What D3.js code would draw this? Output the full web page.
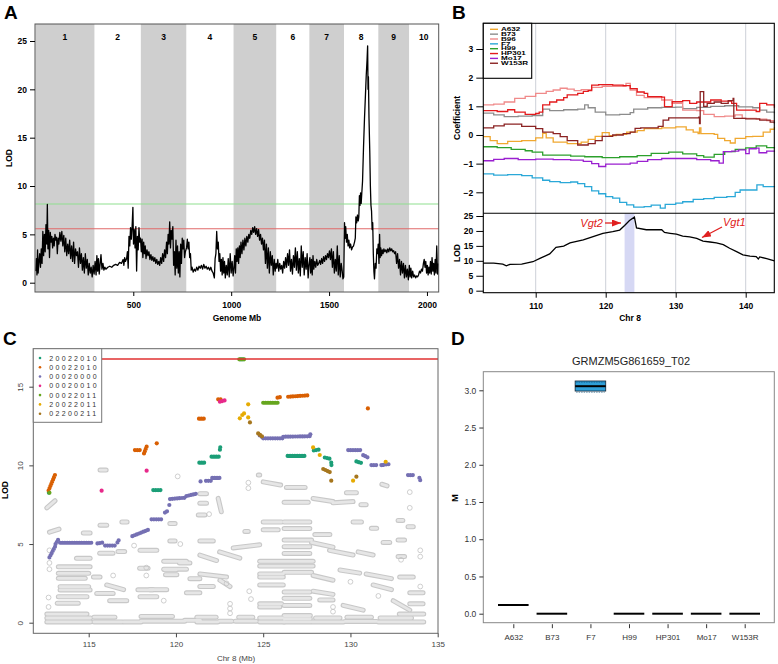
<!DOCTYPE html>
<html>
<head>
<meta charset="utf-8">
<script src="https://cdn.jsdelivr.net/npm/d3@7"></script>
<style>
body { margin: 0; background: #fff; }
svg { font-family: "Liberation Sans", Arial, sans-serif; }
</style>
</head>
<body>
<svg id="fig" width="778" height="664"></svg>
<script>
// ---------- Panel A: genome scan ----------
const chrNames = ["1","2","3","4","5","6","7","8","9","10"];
const chrEnds = [301.4, 538.5, 770.6, 1012.1, 1230.0, 1399.4, 1576.2, 1751.6, 1908.6, 2058.2];
const aYTicks = [0, 5, 10, 15, 20, 25];
const aXTicks = [500, 1000, 1500, 2000];
const aThresholds = [8.14, 5.58]; // green, red
const genomeLod = [
  [2,1.2],[5,2.5],[8,0.8],[11,3.4],[14,1.0],[18,2.2],[22,3.0],[26,1.6],[30,3.5],[34,2.0],[38,5.3],[42,2.8],[46,5.0],[50,3.2],[54,6.0],[58,4.0],[61,8.1],[64,3.5],[68,5.4],[72,2.6],[76,5.2],[80,4.2],[84,4.8],[88,3.6],[92,4.6],[96,3.8],[100,5.0],[104,4.4],[108,4.7],[112,3.0],[116,4.6],[120,4.0],[125,5.2],[130,4.3],[135,5.3],[140,3.8],[145,4.9],[150,3.2],[155,4.6],[160,2.8],[165,4.0],[170,3.0],[175,4.4],[180,2.5],[185,3.8],[190,2.2],[195,4.2],[200,2.0],[205,3.5],[210,2.8],[215,3.2],[220,1.6],[225,3.6],[230,2.0],[235,3.0],[240,1.3],[245,2.6],[250,1.0],[255,3.0],[260,1.5],[265,2.4],[270,0.8],[275,2.0],[280,1.0],[285,1.6],[290,0.6],[295,1.8],[300,0.9],
  [305,2.2],[310,0.8],[314,2.8],[318,1.2],[322,2.5],[326,0.9],[330,1.8],[335,2.9],[340,1.4],[345,2.0],[350,1.3],[355,1.6],[360,1.4],[370,1.6],[380,1.7],[390,1.6],[400,1.8],[410,1.9],[420,1.8],[430,2.1],[440,2.0],[448,2.4],[452,1.8],[456,2.6],[460,2.2],[466,2.5],[470,3.2],[474,1.5],[478,4.8],[482,3.8],[486,5.7],[490,4.5],[494,5.8],[498,7.8],[501,4.0],[505,5.5],[509,3.6],[513,5.8],[517,1.2],[521,4.8],[525,3.4],[529,5.7],[533,4.2],[537,4.6],
  [541,3.2],[545,4.5],[549,2.6],[553,4.2],[557,3.0],[561,3.8],[565,2.5],[570,3.4],[575,2.8],[580,3.2],[585,2.4],[590,2.9],[595,2.3],[600,2.7],[605,2.2],[610,2.6],[615,2.0],[620,2.4],[625,1.9],[630,2.2],[635,1.8],[640,2.6],[645,2.0],[650,3.0],[655,2.2],[660,3.4],[665,2.6],[670,4.2],[674,3.0],[678,5.0],[682,4.0],[686,6.3],[690,3.6],[694,5.4],[698,4.5],[702,5.8],[706,1.8],[710,3.2],[714,0.8],[718,4.4],[722,1.5],[726,3.8],[730,1.0],[734,3.2],[738,0.6],[742,4.0],[746,2.0],[750,4.6],[754,3.5],[758,4.4],[762,2.6],[766,3.2],
  [772,3.6],[776,4.5],[780,3.5],[784,4.2],[788,2.6],[792,3.0],[796,1.3],[800,1.6],[806,1.1],[812,1.4],[818,1.2],[824,1.6],[830,1.3],[836,1.7],[842,1.5],[848,1.8],[854,1.4],[860,1.9],[866,1.5],[872,1.7],[878,1.4],[884,1.6],[890,1.3],[896,1.6],[902,1.2],[908,1.0],[914,0.5],[918,2.5],[922,3.0],[926,5.3],[930,3.5],[934,4.2],[938,2.2],[942,3.0],[946,1.2],[950,2.4],[954,0.8],[958,2.6],[962,1.0],[966,2.2],[970,0.5],[975,1.8],[980,0.8],[985,2.5],[990,0.6],[995,3.0],[1000,1.0],[1005,2.2],[1010,0.7],
  [1014,1.5],[1018,2.8],[1022,1.0],[1026,3.5],[1030,2.2],[1034,3.6],[1038,2.0],[1042,3.8],[1046,2.6],[1050,4.2],[1055,3.0],[1060,4.4],[1065,3.4],[1070,4.6],[1075,3.8],[1080,4.8],[1085,4.2],[1090,5.0],[1095,4.6],[1100,5.4],[1105,5.0],[1110,5.7],[1115,5.2],[1120,5.8],[1125,5.0],[1130,5.6],[1135,4.8],[1140,5.5],[1145,4.4],[1150,5.0],[1155,4.0],[1160,4.6],[1165,3.4],[1170,4.4],[1175,2.0],[1180,4.0],[1185,1.5],[1190,3.6],[1195,1.0],[1200,3.2],[1205,1.8],[1210,2.8],[1215,0.8],[1220,2.4],[1225,1.2],[1229,2.0],
  [1233,1.5],[1238,2.4],[1243,1.2],[1248,2.0],[1253,1.4],[1258,1.8],[1263,1.0],[1268,2.2],[1273,1.5],[1278,2.6],[1283,1.6],[1288,3.0],[1293,1.8],[1298,3.4],[1303,1.2],[1308,2.4],[1313,0.9],[1318,2.8],[1323,1.6],[1328,3.6],[1333,1.3],[1338,3.2],[1343,1.0],[1348,2.5],[1353,0.7],[1358,3.8],[1363,1.6],[1368,3.2],[1373,0.8],[1378,2.6],[1383,1.4],[1388,3.0],[1393,0.5],[1397,1.8],
  [1402,2.6],[1406,1.0],[1410,2.4],[1414,0.8],[1418,2.8],[1422,1.4],[1427,2.2],[1432,1.6],[1437,2.4],[1442,1.8],[1447,2.0],[1452,2.3],[1457,1.9],[1462,2.5],[1467,2.0],[1472,2.7],[1477,2.2],[1482,2.8],[1487,2.4],[1492,3.0],[1497,2.6],[1502,3.3],[1507,2.4],[1512,3.5],[1517,1.6],[1522,3.2],[1527,1.0],[1532,2.4],[1537,1.2],[1542,3.8],[1547,0.8],[1552,2.8],[1557,0.6],[1562,2.0],[1567,1.2],[1571,0.4],[1575,0.6],
  [1577,3.5],[1579,6.2],[1582,4.6],[1585,5.8],[1589,4.2],[1593,5.0],[1597,3.8],[1601,4.4],[1605,3.6],[1610,4.0],[1615,3.4],[1620,3.7],[1625,3.8],[1630,4.2],[1634,4.6],[1637,6.8],[1641,6.2],[1645,7.0],[1649,6.4],[1652,6.8],[1655,9.0],[1658,8.0],[1661,9.3],[1664,8.2],[1667,9.2],[1671,10.5],[1676,14.0],[1681,17.0],[1686,19.5],[1690,21.5],[1694,23.0],[1697,24.5],[1699,20.0],[1701,21.3],[1704,17.0],[1708,13.5],[1711,10.0],[1714,8.0],[1717,7.4],[1720,5.5],[1723,6.2],[1726,3.0],[1729,1.2],[1732,0.4],[1736,2.0],[1740,1.5],[1744,3.5],[1748,3.0],[1751,4.0],
  [1755,2.0],[1758,5.0],[1761,2.6],[1764,3.6],[1768,2.8],[1772,3.4],[1776,3.0],[1780,3.5],[1785,3.2],[1790,3.4],[1795,3.1],[1800,3.5],[1805,3.2],[1810,3.6],[1815,3.3],[1820,3.5],[1825,3.2],[1830,3.3],[1835,3.0],[1840,3.2],[1845,2.0],[1850,3.0],[1855,1.5],[1860,2.4],[1865,0.8],[1870,2.2],[1875,1.0],[1880,2.0],[1885,0.5],[1890,1.8],[1895,0.6],[1900,1.4],[1905,0.3],
  [1910,1.8],[1914,0.6],[1918,1.5],[1922,0.5],[1927,1.2],[1932,0.6],[1937,0.8],[1942,0.5],[1947,0.7],[1952,0.6],[1957,0.8],[1962,1.2],[1967,1.0],[1972,1.4],[1977,1.2],[1982,2.0],[1986,2.4],[1990,1.6],[1994,2.2],[1998,1.0],[2002,1.8],[2006,0.8],[2010,1.6],[2014,1.0],[2018,2.2],[2022,0.9],[2026,2.6],[2030,1.2],[2034,2.0],[2038,0.8],[2042,2.4],[2046,1.0],[2050,3.8],[2054,0.9],[2057,2.0]
];

// ---------- Panel B: coefficients and LOD on chr 8 ----------
const bNames = ["A632","B73","B96","F7","H99","HP301","Mo17","W153R"];
const bColors = ["#f0a830","#8c8c8c","#f08a8a","#2aa8d8","#2ca02c","#e31a1c","#9a1fd0","#8b2323"];
const bCoefTicks = [-2,-1,0,1,2,3];
const bLodTicks = [0,5,10,15,20,25];
const bXTicks = [110,120,130,140];
const coefA632 = [[102.5,-0.06],[103.5,-0.2],[104.5,-0.3],[106,-0.22],[108,-0.2],[110,-0.1],[111,0.06],[111.5,-0.1],[112.5,-0.25],[114.5,-0.3],[116.5,-0.25],[117.5,-0.15],[118.5,-0.05],[119.5,0.08],[120.5,-0.02],[121.5,0.02],[123,0.1],[124.5,0.15],[125.5,0.22],[128,0.25],[130,0.28],[131.5,0.18],[132.5,0.1],[133.2,0.05],[133.4,0.25],[133.6,0.05],[135.5,0.02],[136,-0.12],[137,-0.2],[137.8,-0.28],[138.5,-0.12],[140,-0.06],[141,-0.05],[142.5,0.1],[143.5,0.2],[144.1,0.28]];
const coefB73 = [[102.5,0.76],[104,0.7],[105.5,0.64],[107.5,0.66],[109.5,0.68],[111,0.9],[112,0.85],[114,0.88],[116,0.9],[117,1.05],[117.5,0.95],[118.5,0.8],[120,0.7],[122,0.72],[123.5,0.78],[124,0.9],[126,0.95],[128,0.96],[130,0.97],[131,0.92],[133,0.96],[135,1.0],[137,1.02],[139,0.98],[141,0.95],[142,0.87],[143,0.8],[144.1,0.76]];
const coefB96 = [[102.5,1.05],[104,1.08],[105.5,1.15],[107,1.28],[108.5,1.35],[110,1.45],[111.5,1.52],[112.5,1.57],[113.5,1.63],[114.5,1.6],[115.5,1.55],[116.5,1.58],[118,1.66],[119.5,1.7],[121.5,1.7],[122.9,1.8],[123.5,1.57],[124.4,1.38],[125.5,1.3],[128,1.22],[129.5,1.1],[131,0.87],[133,0.85],[134,0.72],[135.5,0.64],[137,0.66],[138.5,0.7],[139.5,0.58],[141.5,0.55],[143,0.5],[144.1,0.46]];
const coefF7 = [[102.5,-1.36],[104,-1.4],[106,-1.38],[108,-1.42],[109.5,-1.5],[111,-1.58],[112,-1.63],[113.5,-1.66],[115,-1.64],[116,-1.7],[117,-1.8],[118,-1.95],[119,-2.05],[120,-2.15],[121,-2.2],[122,-2.35],[123,-2.44],[124,-2.52],[125.5,-2.5],[126.5,-2.45],[127.8,-2.55],[128.5,-2.42],[130,-2.38],[131,-2.33],[132.5,-2.25],[134,-2.22],[135.5,-2.18],[137.3,-2.15],[138.5,-2.0],[139.2,-1.92],[141,-1.92],[141.6,-1.74],[142.5,-1.8],[144.1,-1.82]];
const coefH99 = [[102.5,-0.41],[104.5,-0.44],[106.5,-0.5],[108.5,-0.55],[109.5,-0.6],[111,-0.7],[113,-0.7],[115,-0.74],[117,-0.76],[119.5,-0.79],[122,-0.76],[124.5,-0.72],[126.5,-0.64],[129,-0.6],[131,-0.66],[133,-0.72],[134,-0.77],[135.5,-0.68],[137,-0.58],[138.5,-0.5],[140,-0.45],[141.5,-0.38],[143,-0.44],[144.1,-0.47]];
const coefHP301 = [[102.5,0.85],[104.5,0.82],[106,0.88],[107,0.8],[108.5,0.72],[110,0.75],[110.5,0.8],[111,1.05],[112,1.15],[113,1.22],[114,1.3],[114.5,1.4],[116,1.45],[116.8,1.52],[117.5,1.55],[118,1.74],[119,1.76],[121,1.74],[122.5,1.72],[123.5,1.62],[124.5,1.5],[125.5,1.45],[126,1.34],[128,1.32],[128.4,0.99],[129.5,1.16],[131,1.2],[132,1.1],[133,1.15],[135,1.22],[136.5,1.18],[138,1.1],[138.7,0.87],[140,0.87],[141.5,0.82],[142,1.1],[143,1.05],[144.1,0.95]];
const coefMo17 = [[102.5,-0.9],[104,-0.85],[105.5,-0.82],[107.5,-0.86],[110,-0.84],[112.5,-0.86],[115,-0.88],[116.8,-0.92],[118,-1.0],[119,-1.1],[120,-1.02],[122,-1.02],[123.5,-0.98],[124.5,-0.92],[126,-0.86],[128,-0.82],[131,-0.82],[133,-0.86],[135,-0.9],[136.2,-0.98],[136.8,-0.58],[138,-0.56],[139,-0.52],[140,-0.65],[140.5,-0.48],[141.5,-0.46],[141.9,-0.62],[143,-0.56],[144.1,-0.54]];
const coefW153R = [[102.5,0.25],[104,0.32],[105.5,0.38],[108,0.3],[110,0.22],[111,0.1],[112.5,0.05],[113.5,-0.06],[114.5,-0.2],[116,-0.35],[117.5,-0.3],[118.5,-0.2],[119.5,-0.05],[121,0.0],[122.5,0.05],[123.5,0.1],[124.2,0.23],[125,0.25],[127.5,0.3],[128.2,0.52],[129,0.6],[131,0.6],[133.3,0.62],[133.4,0.4],[133.5,1.51],[133.9,1.51],[134,1.0],[134.5,1.1],[135.5,1.15],[136.5,1.1],[137.5,1.2],[138.2,1.28],[138.3,0.58],[140,0.56],[142,0.52],[143.5,0.45],[144.1,0.4]];
const bCoefSeries = [coefA632, coefB73, coefB96, coefF7, coefH99, coefHP301, coefMo17, coefW153R];
const chr8Lod = [[102.5,9.2],[104,9.2],[105.3,8.9],[105.8,8.3],[106.3,8.8],[108,8.9],[109.6,9.7],[110.6,10.8],[112,12.3],[112.9,14.5],[114,14.9],[114.9,16.0],[116.8,17.0],[118.2,18.1],[119.6,19.2],[121,19.8],[122,20.3],[122.7,21.8],[123.4,23.5],[124.1,24.6],[124.4,21.0],[125.8,20.4],[128,20.4],[128.4,19.5],[129.2,19.2],[130.1,18.9],[131,18.3],[132,18.0],[133,17.5],[133.9,16.6],[134.9,16.3],[135.8,16.0],[136.8,15.4],[137.7,14.2],[138.7,13.1],[139.6,12.0],[140.6,11.6],[141.5,11.4],[141.8,10.6],[142,11.3],[143,10.7],[144.1,10.0]];
const bBand = [122.7, 124.1];

// ---------- Panel C: haplotype LOD on chr 8 ----------
const cGroups = ["20022010","00022010","00020000","00020010","00022011","20022011","02200211"];
const cColors = ["#1b9e77","#d95f02","#7570b3","#e7298a","#66a61e","#e6ab02","#a6761d"];
const cXTicks = [115,120,125,130,135];
const cYTicks = [0,5,10,15];
const cThreshold = 16.76;
// [group, startMb, endMb, startLod, endLod]
const cRuns = [
  [0,112.72,112.78,8.26,8.26],[0,118.7,119.2,8.43,8.43],[0,121.34,121.72,10.17,10.17],[0,122.04,122.48,10.55,10.55],[0,122.52,122.56,11.0,11.3],[0,126.4,127.48,10.6,10.6],[0,127.9,128.2,10.95,11.0],[0,128.53,128.9,10.5,10.4],[0,128.9,128.92,10.17,9.9],[0,130.34,130.63,10.25,10.15],[0,123.7,123.95,16.74,16.74],
  [1,112.7,113.07,8.4,9.4],[1,117.65,117.94,10.97,10.97],[1,118.17,118.36,10.76,11.3],[1,118.9,118.9,11.4,11.4],[1,121.32,121.7,12.97,12.97],[1,122.42,122.6,14.2,14.2],[1,125.82,126.05,14.3,14.36],[1,126.43,127.58,14.36,14.45],[1,131.0,131.0,13.62,13.62],
  [2,112.75,113.07,4.15,4.83],[2,113.1,113.3,5.0,5.36],[2,113.36,115.17,5.08,5.08],[2,115.5,115.84,5.04,5.1],[2,115.94,116.6,4.9,4.9],[2,116.65,116.75,5.1,5.3],[2,117.5,118.4,5.5,5.9],[2,118.6,119.27,6.57,6.57],[2,119.37,119.6,7.0,7.15],[2,119.62,119.62,7.48,7.48],[2,119.66,120.6,7.86,7.95],[2,120.6,121.18,8.05,8.2],[2,121.41,121.41,8.98,8.98],[2,121.72,122.04,9.02,9.02],[2,122.08,122.52,9.2,9.2],[2,124.8,125.0,11.9,11.75],[2,125.0,126.15,11.72,11.72],[2,126.15,127.67,11.82,11.85],[2,127.7,127.72,11.97,11.97],[2,129.87,130.63,10.97,10.97],[2,130.73,131.0,10.65,10.5],[2,131.2,131.5,10.02,10.02],[2,131.77,132.25,10.02,10.08],[2,133.3,133.6,9.38,9.38],[2,133.95,134.0,9.2,9.05],
  [3,115.74,115.74,8.39,8.39],[3,118.32,118.32,9.66,9.66],[3,122.52,122.86,14.05,14.15],
  [4,112.75,112.75,8.26,8.26],[4,123.63,124.0,16.74,16.74],[4,125.0,125.95,13.98,13.98],
  [5,123.66,123.66,12.99,12.99],[5,123.8,123.95,13.2,13.35],[5,124.14,124.14,13.88,13.88],[5,124.14,124.24,13.05,12.95],[5,127.86,127.86,11.14,11.14],[5,128.24,128.24,10.66,10.66],[5,130.15,130.2,9.03,9.03],[5,132.02,132.02,10.23,10.23],
  [6,124.24,124.24,12.73,12.73],[6,124.71,125.0,12.03,11.78],[6,128.44,128.9,9.77,9.53],[6,128.9,128.9,9.03,9.03],[6,130.34,130.34,9.28,9.28]
];
// [startMb, endMb, startLod, endLod]
const greyRuns = [
  [115.65,116.0,9.7,9.7],[124.72,124.8,9.38,9.38],[125.0,126.0,8.95,8.75],[126.33,127.4,8.6,8.6],[126.2,127.58,7.65,7.65],[127.86,129.0,7.9,7.7],[129.0,130.15,7.62,7.7],[129.77,130.34,8.26,8.26],[130.6,130.9,7.5,7.5],[131.8,132.1,8.8,8.7],[121.37,121.75,8.2,8.2],[121.37,121.75,7.6,7.6],[122.42,122.6,7.9,7.05],[121.28,121.66,6.85,6.85],[112.6,113.07,7.3,7.75],[115.65,116.03,6.2,6.2],[116.9,117.2,6.4,6.4],[119.65,119.95,6.3,6.3],[125.0,126.05,6.4,6.4],[126.2,127.67,6.4,6.4],[126.2,127.67,5.98,5.98],[125.0,125.86,5.9,5.9],[130.15,130.63,6.4,6.4],[131.2,131.5,6.0,6.0],[132.73,133.0,6.5,6.5],[133.3,133.6,6.1,6.1],[123.95,124.14,5.8,5.8],[112.75,113.3,5.75,5.95],[114.69,115.08,5.7,5.7],
  [121.37,122.14,5.2,5.2],[119.65,119.95,5.2,5.2],[126.2,127.77,5.25,5.25],[126.2,127.67,4.83,4.83],[127.77,129.0,5.1,4.8],[127.96,128.82,5.6,5.6],[128.8,130.15,4.6,4.3],[130.44,131.3,4.5,4.3],[131.87,132.25,5.1,5.1],[132.73,133.1,5.25,5.25],[132.73,133.1,4.2,4.2],[123.28,124.8,4.75,4.95],[117.94,118.9,4.6,4.6],[115.63,116.39,4.42,4.42],[116.68,117.06,4.52,4.52],[114.3,115.08,4.09,4.09],[119.3,120.6,3.9,3.9],[119.3,120.6,3.4,3.4],[122.5,123.66,4.5,4.1],[121.37,122.33,4.3,3.95],
  [124.8,127.86,3.9,3.9],[124.8,127.86,3.6,3.6],[126.2,127.67,4.4,4.4],[124.8,126.15,3.1,3.1],[124.8,126.15,2.9,2.9],[126.2,127.77,3.2,3.2],[124.8,126.15,2.4,2.4],[126.2,127.67,1.95,1.95],[126.2,127.67,1.55,1.55],[126.2,127.67,1.1,1.1],[124.8,126.05,1.2,1.2],[124.8,125.95,1.0,1.0],[127.86,129.0,3.0,2.7],[129.4,130.53,3.35,3.15],[130.9,132.35,3.1,2.8],[131.3,132.35,2.4,2.1],[132.82,133.6,2.9,2.9],[121.37,122.9,3.1,2.9],[120.8,121.37,2.8,2.8],[122.52,123.1,2.7,2.3],[120.2,120.8,3.8,3.8],[121.37,122.14,2.3,2.3],[120.6,121.37,1.9,1.9],[118.5,119.47,2.1,2.1],[119.4,120.05,3.05,3.05],[117.94,118.9,1.65,1.65],[127.86,129.0,2.0,1.8],[128.24,129.0,1.45,1.45],[129.58,130.73,1.1,0.8],[132.45,133.4,1.4,0.8],[133.4,134.16,1.9,1.9],[133.4,134.16,1.2,1.2],[116.03,117.0,2.4,2.1],[116.2,117.18,1.4,1.4],[115.27,115.65,2.9,2.9],[115.46,116.4,1.86,1.86],[117.82,118.68,2.09,2.09],[117.92,118.4,3.46,3.46],[119.35,120.02,3.36,3.36],
  [113.26,115.08,3.55,3.55],[113.26,115.0,3.14,3.14],[113.26,114.8,2.82,2.82],[113.36,115.0,2.29,2.29],[113.36,115.08,2.08,2.08],[113.26,114.9,1.65,1.65],[113.2,114.4,1.24,1.24],
  [112.6,115.1,0.05,0.05],[112.6,115.1,0.3,0.3],[112.6,114.9,0.55,0.55],[115.3,116.9,0.05,0.05],[115.3,116.5,0.35,0.35],[117.0,118.0,0.05,0.05],[118.0,120.5,0.1,0.1],[118.0,119.8,0.4,0.4],[120.5,121.4,0.15,0.15],[121.2,122.4,0.05,0.05],[121.2,122.3,0.35,0.35],[122.5,123.2,0.1,0.1],[123.4,124.6,0.1,0.1],[123.6,124.4,0.35,0.35],[124.8,126.2,0.05,0.05],[124.8,126.1,0.3,0.3],[126.2,127.7,0.05,0.05],[126.2,127.7,0.25,0.25],[126.2,127.7,0.45,0.45],[127.8,129.6,0.05,0.05],[128.0,129.4,0.3,0.3],[129.7,131.5,0.08,0.08],[129.8,131.2,0.35,0.35],[131.6,134.2,0.05,0.05],[131.7,133.5,0.3,0.3],[132.8,134.2,0.55,0.55]
];
const greySingles = [[120.1,9.3],[124.15,8.9],[124.15,8.55],[133.4,8.3],[133.4,7.3],[121.9,6.9],[112.75,4.6],[112.75,3.8],[112.75,3.4],[112.7,1.0],[112.7,1.6],[134.0,4.6],[134.0,4.2],[134.0,2.3],[120.25,5.0],[116.4,3.0],[118.3,3.5],[118.3,3.0],[122.9,2.5],[129,1.0],[129,0.7],[124.2,2.0],[124.3,1.5],[132.9,4.0],[130.0,2.6],[131.6,1.7],[117.6,4.9],[119.3,1.4],[123.1,1.2],[123.1,0.9],[123.1,0.6]];

// ---------- Panel D: expression per line ----------
const dTitle = "GRMZM5G861659_T02";
const dCats = ["A632","B73","F7","H99","HP301","Mo17","W153R"];
const dMedian = [0.117, 0, 3.055, 0, 0, 0, 0];
const dQ1 = [0.117, 0, 2.99, 0, 0, 0, 0];
const dQ3 = [0.117, 0, 3.125, 0, 0, 0, 0];
const dYTicks = [0, 0.5, 1.0, 1.5, 2.0, 2.5, 3.0];

const svg = d3.select("#fig");

function tidy(g, size, weight, color) {
  g.select(".domain").remove();
  g.selectAll("text").attr("font-size", size).attr("font-weight", weight).attr("fill", color);
  g.selectAll("line").attr("stroke", color);
}
function panelLabel(t, x, y) {
  svg.append("text").attr("x", x).attr("y", y).attr("font-size", 19).attr("font-weight", "bold").text(t);
}

// ===== Panel A =====
const xA = d3.scaleLinear().domain([0, 2060]).range([35.4, 438.7]);
const yA = d3.scaleLinear().domain([0, 25]).range([282.7, 41]);
const gA = svg.append("g");
chrEnds.forEach((end, i) => {
  const s = i ? chrEnds[i - 1] : 0;
  if (i % 2 === 0) {
    gA.append("rect").attr("x", xA(s)).attr("y", 24).attr("width", xA(end) - xA(s)).attr("height", 268).attr("fill", "#cfcfcf");
  }
  gA.append("text").attr("x", xA((s + end) / 2)).attr("y", 40).attr("text-anchor", "middle")
    .attr("font-size", 8.5).attr("font-weight", "bold").text(chrNames[i]);
});
const thrColors = ["#90e090", "#e06a6a"];
aThresholds.forEach((t, i) => {
  gA.append("line").attr("x1", xA(0)).attr("x2", xA(2060)).attr("y1", yA(t)).attr("y2", yA(t))
    .attr("stroke", thrColors[i]).attr("stroke-width", 1.2);
});
gA.append("path").datum(genomeLod)
  .attr("d", d3.line().x(d => xA(d[0])).y(d => yA(d[1])))
  .attr("fill", "none").attr("stroke", "#000").attr("stroke-width", 1.3).attr("stroke-linejoin", "round");
gA.append("rect").attr("x", 35).attr("y", 24).attr("width", 403.7).attr("height", 268)
  .attr("fill", "none").attr("stroke", "#555");
gA.append("g").attr("transform", "translate(35,0)")
  .call(d3.axisLeft(yA).tickValues(aYTicks).tickSize(5).tickPadding(3))
  .call(g => tidy(g, 8.5, "bold", "#000"));
gA.append("g").attr("transform", "translate(0,292)")
  .call(d3.axisBottom(xA).tickValues(aXTicks).tickFormat(d3.format("d")).tickSize(4).tickPadding(6))
  .call(g => tidy(g, 8.5, "bold", "#000"));
gA.append("text").attr("x", 237).attr("y", 321).attr("text-anchor", "middle").attr("font-size", 8.5).attr("font-weight", "bold").text("Genome Mb");
gA.append("text").attr("transform", "translate(12,158) rotate(-90)").attr("text-anchor", "middle").attr("font-size", 8.5).attr("font-weight", "bold").text("LOD");
panelLabel("A", 4, 19);

// ===== Panel B =====
const xB = d3.scaleLinear().domain([110, 140]).range([535.7, 745.7]);
const yB = d3.scaleLinear().domain([-2, 3]).range([192.3, 49]);
const yBL = d3.scaleLinear().domain([0, 25]).range([290.7, 216]);
const bLeft = 483.3, bRight = 774.3, bTop = 23.3, bMid = 213.3, bBottom = 292.7;
const gB = svg.append("g");
bXTicks.forEach(t => {
  gB.append("line").attr("x1", xB(t)).attr("x2", xB(t)).attr("y1", bTop).attr("y2", bBottom)
    .attr("stroke", "#cdd0d8").attr("stroke-width", 1);
});
gB.append("rect").attr("x", xB(bBand[0])).attr("y", bMid).attr("width", xB(bBand[1]) - xB(bBand[0]))
  .attr("height", bBottom - bMid).attr("fill", "#d6d8f4");
const stepLine = d3.line().curve(d3.curveStepAfter).x(d => xB(d[0])).y(d => yB(d[1]));
bCoefSeries.forEach((s, i) => {
  gB.append("path").datum(s).attr("d", stepLine).attr("fill", "none")
    .attr("stroke", bColors[i]).attr("stroke-width", 1.3);
});
gB.append("path").datum(chr8Lod)
  .attr("d", d3.line().x(d => xB(d[0])).y(d => yBL(d[1])))
  .attr("fill", "none").attr("stroke", "#000").attr("stroke-width", 1.3);
gB.append("rect").attr("x", bLeft).attr("y", bTop).attr("width", bRight - bLeft).attr("height", bBottom - bTop)
  .attr("fill", "none").attr("stroke", "#000").attr("stroke-width", 1.1);
gB.append("line").attr("x1", bLeft).attr("x2", bRight).attr("y1", bMid).attr("y2", bMid).attr("stroke", "#000").attr("stroke-width", 1.1);
// legend
const lg = gB.append("g");
lg.append("rect").attr("x", bLeft).attr("y", bTop).attr("width", 48.4).attr("height", 55)
  .attr("fill", "#fff").attr("stroke", "#000").attr("stroke-width", 1.1);
bNames.forEach((n, i) => {
  const y = 29.3 + i * 4.85;
  lg.append("line").attr("x1", 490).attr("x2", 498).attr("y1", y).attr("y2", y).attr("stroke", bColors[i]).attr("stroke-width", 1.4);
  lg.append("text").attr("transform", `translate(501,${y + 1.7}) scale(1.8,1)`).attr("font-size", 4.5)
    .attr("font-weight", "bold").text(n);
});
gB.append("g").attr("transform", `translate(${bLeft},0)`)
  .call(d3.axisLeft(yB).tickValues(bCoefTicks).tickFormat(d3.format("d")).tickSize(7).tickPadding(3))
  .call(g => tidy(g, 8.5, "bold", "#000"));
gB.append("g").attr("transform", `translate(${bLeft},0)`)
  .call(d3.axisLeft(yBL).tickValues(bLodTicks).tickSize(7).tickPadding(3))
  .call(g => tidy(g, 8.5, "bold", "#000"));
gB.append("g").attr("transform", `translate(0,${bBottom})`)
  .call(d3.axisBottom(xB).tickValues(bXTicks).tickSize(5).tickPadding(5))
  .call(g => tidy(g, 8.5, "bold", "#000"));
gB.append("text").attr("x", 630).attr("y", 321).attr("text-anchor", "middle").attr("font-size", 8.5).attr("font-weight", "bold").text("Chr 8");
gB.append("text").attr("transform", "translate(460,118) rotate(-90)").attr("text-anchor", "middle").attr("font-size", 8.5).attr("font-weight", "bold").text("Coefficient");
gB.append("text").attr("transform", "translate(460,253) rotate(-90)").attr("text-anchor", "middle").attr("font-size", 8.5).attr("font-weight", "bold").text("LOD");
// arrows
const defs = svg.append("defs");
defs.append("marker").attr("id", "arr").attr("markerUnits", "userSpaceOnUse")
  .attr("markerWidth", 9).attr("markerHeight", 7).attr("refX", 9).attr("refY", 3.5).attr("orient", "auto")
  .append("path").attr("d", "M0,0 L9,3.5 L0,7 Z").attr("fill", "#e02020");
gB.append("line").attr("x1", 605).attr("y1", 223).attr("x2", 621).attr("y2", 223)
  .attr("stroke", "#e02020").attr("stroke-width", 1.3).attr("marker-end", "url(#arr)");
gB.append("line").attr("x1", 722).attr("y1", 227).attr("x2", 702).attr("y2", 237.5)
  .attr("stroke", "#e02020").attr("stroke-width", 1.3).attr("marker-end", "url(#arr)");
gB.append("text").attr("x", 603).attr("y", 227).attr("text-anchor", "end").attr("font-size", 11)
  .attr("font-style", "italic").attr("fill", "#e02020").text("Vgt2");
gB.append("text").attr("x", 723).attr("y", 226).attr("font-size", 11)
  .attr("font-style", "italic").attr("fill", "#e02020").text("Vgt1");
panelLabel("B", 452, 19);

// ===== Panel C =====
const xC = d3.scaleLinear().domain([115, 135]).range([88.7, 437.7]);
const yC = d3.scaleLinear().domain([0, 15]).range([622.7, 386.7]);
const cLeft = 33.3, cRight = 438, cTop = 348.7, cBottom = 633.3;
const gC = svg.append("g");
const runPath = d => `M${xC(d[0])},${yC(d[2])}L${xC(d[1])},${yC(d[3])}`;
gC.append("g").selectAll("path").data(greyRuns).join("path")
  .attr("d", runPath).attr("stroke", "#c8c8c8").attr("stroke-width", 5).attr("stroke-linecap", "round").attr("fill", "none");
gC.append("g").selectAll("path").data(greyRuns).join("path")
  .attr("d", runPath).attr("stroke", "#e6e6e6").attr("stroke-width", 2.8).attr("stroke-linecap", "round").attr("fill", "none");
gC.append("g").selectAll("circle").data(greySingles).join("circle")
  .attr("cx", d => xC(d[0])).attr("cy", d => yC(d[1])).attr("r", 2.4)
  .attr("fill", "none").attr("stroke", "#c3c3c3").attr("stroke-width", 0.8);
const colRuns = gC.append("g");
cRuns.forEach(r => {
  const seg = [r[1], r[2], r[3], r[4]];
  if (Math.abs(xC(r[2]) - xC(r[1])) + Math.abs(yC(r[4]) - yC(r[3])) < 1) {
    colRuns.append("circle").attr("cx", xC(r[1])).attr("cy", yC(r[3])).attr("r", 2.1).attr("fill", cColors[r[0]]);
  } else {
    colRuns.append("path").attr("d", runPath(seg)).attr("stroke", cColors[r[0]]).attr("stroke-width", 4.2)
      .attr("stroke-linecap", "round").attr("stroke-dasharray", "0,2.4").attr("fill", "none");
  }
});
gC.append("line").attr("x1", 101.7).attr("x2", cRight).attr("y1", yC(cThreshold)).attr("y2", yC(cThreshold))
  .attr("stroke", "#e03030").attr("stroke-width", 1.3);
gC.append("rect").attr("x", cLeft).attr("y", cTop).attr("width", cRight - cLeft).attr("height", cBottom - cTop)
  .attr("fill", "none").attr("stroke", "#666");
const lc = gC.append("g");
lc.append("rect").attr("x", cLeft).attr("y", cTop).attr("width", 68.4).attr("height", 73.6)
  .attr("fill", "#fff").attr("stroke", "#777");
cGroups.forEach((n, i) => {
  const y = 358 + i * 9.28;
  lc.append("circle").attr("cx", 40).attr("cy", y).attr("r", 1.3).attr("fill", cColors[i]);
  lc.append("text").attr("x", 49.3).attr("y", y + 2.5).attr("font-size", 7).attr("letter-spacing", 2.3)
    .attr("fill", "#333").text(n);
});
gC.append("g").attr("transform", `translate(0,${cBottom})`)
  .call(d3.axisBottom(xC).tickValues(cXTicks).tickSize(4).tickPadding(4))
  .call(g => tidy(g, 8, "normal", "#444"));
const yAxC = gC.append("g").attr("transform", `translate(${cLeft},0)`)
  .call(d3.axisLeft(yC).tickValues(cYTicks).tickSize(4).tickPadding(4))
  .call(g => tidy(g, 8, "normal", "#444"));
yAxC.selectAll(".tick text").attr("text-anchor", "middle").attr("x", 0).attr("dy", 0)
  .attr("transform", "translate(-10,0) rotate(-90)");
gC.append("text").attr("x", 236).attr("y", 661).attr("text-anchor", "middle").attr("font-size", 8).attr("fill", "#444").text("Chr 8 (Mb)");
gC.append("text").attr("transform", "translate(8,490) rotate(-90)").attr("text-anchor", "middle").attr("font-size", 8.5).attr("font-weight", "bold").text("LOD");
panelLabel("C", 3, 345);

// ===== Panel D =====
const xD = d3.scalePoint().domain(dCats).range([513.3, 744.7]);
const yD = d3.scaleLinear().domain([0, 3]).range([613.7, 390.3]);
const dLeft = 483.3, dRight = 774.3, dTop = 371.7, dBottom = 622.7;
const gD = svg.append("g");
const halfW = 15.3;
dCats.forEach((c, i) => {
  const cx = xD(c);
  if (dQ3[i] > dQ1[i]) {
    gD.append("rect").attr("x", cx - halfW).attr("y", yD(dQ3[i])).attr("width", 2 * halfW)
      .attr("height", yD(dQ1[i]) - yD(dQ3[i])).attr("fill", "#2f9fd8").attr("stroke", "#123").attr("stroke-width", 0.8);
    [dQ3[i], dQ1[i]].forEach(v => {
      gD.append("line").attr("x1", cx - halfW + 1).attr("x2", cx + halfW - 1).attr("y1", yD(v) + 1.2).attr("y2", yD(v) + 1.2)
        .attr("stroke", "#0b4f7a").attr("stroke-width", 0.6).attr("stroke-dasharray", "1.5,1");
    });
  }
  gD.append("line").attr("x1", cx - halfW).attr("x2", cx + halfW).attr("y1", yD(dMedian[i])).attr("y2", yD(dMedian[i]))
    .attr("stroke", "#000").attr("stroke-width", 2);
});
gD.append("rect").attr("x", dLeft).attr("y", dTop).attr("width", dRight - dLeft).attr("height", dBottom - dTop)
  .attr("fill", "none").attr("stroke", "#888");
gD.append("g").attr("transform", `translate(${dLeft},0)`)
  .call(d3.axisLeft(yD).tickValues(dYTicks).tickFormat(d3.format(".1f")).tickSize(4).tickPadding(3))
  .call(g => tidy(g, 8.5, "normal", "#333"));
gD.append("g").attr("transform", `translate(0,${dBottom + 1.5})`)
  .call(d3.axisBottom(xD).tickSize(4).tickPadding(6))
  .call(g => tidy(g, 8, "normal", "#333"));
gD.append("text").attr("x", 631).attr("y", 365).attr("text-anchor", "middle").attr("font-size", 11).attr("fill", "#222").text(dTitle);
gD.append("text").attr("transform", "translate(458,498) rotate(-90)").attr("text-anchor", "middle").attr("font-size", 9.5).attr("font-weight", "bold").text("M");
panelLabel("D", 451, 345);
</script>
</body>
</html>
